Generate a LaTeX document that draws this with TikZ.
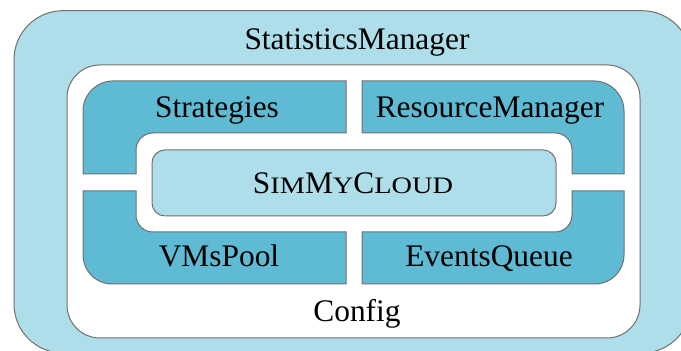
\documentclass[tikz,border=0pt]{standalone}
\usepackage{fontspec}
\setmainfont{Liberation Serif}
\newfontface\widesc[FakeStretch=1.2]{Liberation Serif}
\usepackage{tikz}
\usetikzlibrary{positioning}
\definecolor{paleblue}{RGB}{173,222,233}
\definecolor{midblue}{RGB}{95,187,211}
\definecolor{edgegray}{RGB}{112,112,112}
\newcommand{\fsc}[1]{{\widesc\fontsize{11.8}{12}\selectfont #1}} % fake small caps
\tikzset{
x=0.5pt, y=0.5pt, % one unit is one pixel of the reference
layer/.style={draw=edgegray, line width=0.5pt}, % outline of every box
outerbox/.style={layer, fill=paleblue}, % light blue boxes
corebox/.style={layer, fill=midblue}, % the four L-shaped parts
cfgbox/.style={layer, fill=white}, % the Config frame
txt/.style={anchor=base, font=\fontsize{15.7}{18}\selectfont}, % every text
}

\begin{document}
\begin{tikzpicture}
    \useasboundingbox (0,0) rectangle (681,351);
    \clip (0,0) rectangle (681,351);
    % frames
    \draw[outerbox, rounded corners=24.5pt] (14,-2) rectangle (691,340.3);
    \draw[cfgbox, rounded corners=16.5pt] (67,13) rectangle (640,286);
    % the four parts round the core
    \draw[corebox] (83,177) -- (83,240) arc[start angle=180, end angle=90, radius=30]
        -- (346,270) -- (346,218) -- (153,218) arc[start angle=90, end angle=180, radius=17]
        -- (136,177) -- cycle;
    \draw[corebox] (362,218) -- (362,270) -- (594,270) arc[start angle=90, end angle=0, radius=30]
        -- (624,177) -- (572,177) -- (572,201) arc[start angle=0, end angle=90, radius=17]
        -- cycle;
    \draw[corebox] (83,160) -- (136,160) -- (136,136) arc[start angle=180, end angle=270, radius=17]
        -- (346,119) -- (346,67) -- (112,67) arc[start angle=270, end angle=180, radius=29]
        -- cycle;
    \draw[corebox] (362,119) -- (555,119) arc[start angle=270, end angle=360, radius=17]
        -- (572,160) -- (624,160) -- (624,96) arc[start angle=0, end angle=-90, radius=29]
        -- (362,67) -- cycle;
    % core
    \draw[outerbox, rounded corners=6.5pt] (152,135) rectangle (556,201);
    % texts
    \node[txt] (stats) at (357,301) {StatisticsManager};
    \node[txt] (strat) at (217,233) {Strategies};
    \node[txt] (resmgr) at (490,233) {ResourceManager};
    \node[txt] (core) at (353,157) {S\fsc{IM}M\fsc{Y}C\fsc{LOUD}};
    \node[txt] (vms) at (219,84.5) {VMsPool};
    \node[txt] (events) at (489,84.5) {EventsQueue};
    \node[txt] (config) at (357,29) {Config};
\end{tikzpicture}
\end{document}
